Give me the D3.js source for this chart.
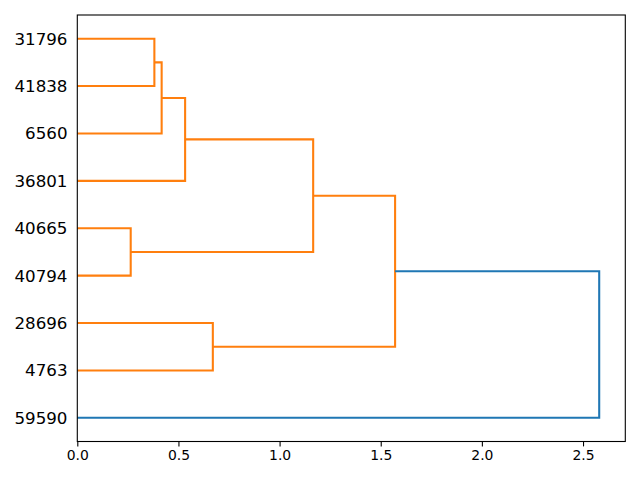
<!DOCTYPE html>
<html><head><meta charset="utf-8">
<script src="https://cdn.jsdelivr.net/npm/d3@7"></script>
<style>body{margin:0;background:#fff}svg{display:block}</style>
</head><body>
<svg id="c" width="640" height="480"></svg>
<script>
// Leaves, top to bottom
const leafLabels = ["31796","41838","6560","36801","40665","40794","28696","4763","59590"];
// Merges: [childA, childB, height]; leaves are 0..8, merges are 9+
const mergeA = [0, 4, 9, 11, 6, 12, 14, 15];
const mergeB = [1, 5, 2, 3, 7, 10, 13, 8];
const mergeHeight = [0.381, 0.264, 0.417, 0.533, 0.670, 1.166, 1.571, 2.580];
const mergeColor = ["#ff7f0e","#ff7f0e","#ff7f0e","#ff7f0e","#ff7f0e","#ff7f0e","#ff7f0e","#1f77b4"];
const xTicks = [0, 0.5, 1.0, 1.5, 2.0, 2.5];

const svg = d3.select("#c");
const L = 77.3, R = 625.3, T = 15, B = 441.5;
const n = leafLabels.length;
const maxH = d3.max(mergeHeight);
const x = d3.scaleLinear().domain([0, maxH * 1.05]).range([L, R]);
const y = d3.scaleLinear().domain([0, n * 10]).range([B, T]);

const pos = []; const hgt = [];
leafLabels.forEach((d, i) => { pos[i] = 5 + 10 * (n - 1 - i); hgt[i] = 0; });
mergeA.forEach((a, k) => {
  const b = mergeB[k], id = n + k;
  pos[id] = (pos[a] + pos[b]) / 2; hgt[id] = mergeHeight[k];
  const h = mergeHeight[k];
  const pts = [[hgt[a], pos[a]], [h, pos[a]], [h, pos[b]], [hgt[b], pos[b]]];
  svg.append("path")
    .attr("d", d3.line().x(p => x(p[0])).y(p => y(p[1]))(pts))
    .attr("fill", "none").attr("stroke", mergeColor[k]).attr("stroke-width", 2.08)
    .attr("stroke-linejoin", "miter");
});

// frame
svg.append("rect").attr("x", L).attr("y", T).attr("width", R - L).attr("height", B - T)
  .attr("fill", "none").attr("stroke", "#000").attr("stroke-width", 1.1);

// x axis
const xa = svg.append("g").attr("transform", `translate(0,${B})`)
  .call(d3.axisBottom(x).tickValues(xTicks).tickFormat(d3.format(".1f")).tickSizeOuter(0).tickSize(4.9).tickPadding(3.5));
xa.select(".domain").remove();
xa.selectAll("line").attr("stroke-width", 1.1);
xa.selectAll("text").attr("font-family", "DejaVu Sans").attr("font-size", 13.9).attr("fill", "#000");

// y leaf labels
svg.append("g").selectAll("text").data(leafLabels).join("text")
  .attr("x", L - 9.8).attr("y", (d, i) => y(pos[i]))
  .attr("dy", "0.36em").attr("text-anchor", "end")
  .attr("font-family", "DejaVu Sans").attr("font-size", 16.7).attr("fill", "#000")
  .text(d => d);
</script>
</body></html>
